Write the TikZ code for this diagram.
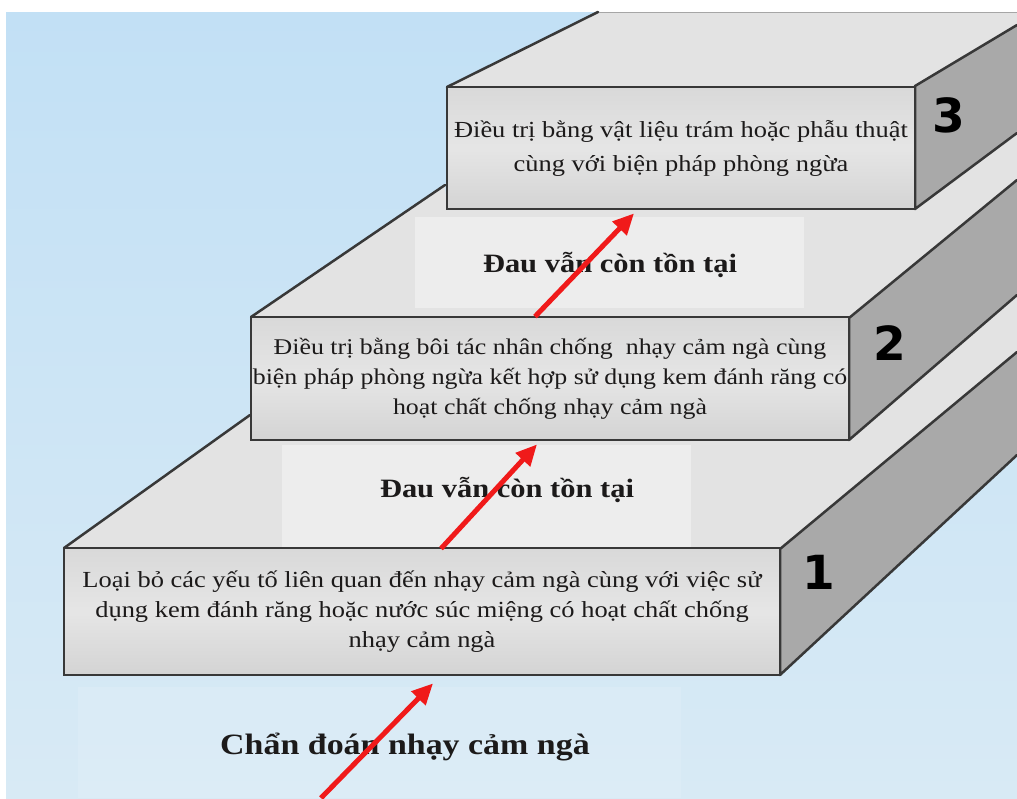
\documentclass[tikz,border=0pt]{standalone}
\usepackage{fontspec}
\setmainfont{Liberation Serif}
\newfontfamily\vnserif[FakeStretch=1.15]{Liberation Serif}
\newfontfamily\numfont{DejaVu Sans}
\usetikzlibrary{arrows.meta,calc}
\definecolor{edgec}{HTML}{383838}
\definecolor{topf}{HTML}{E3E3E3}
\definecolor{topl}{HTML}{EDEDED}
\definecolor{sidef}{HTML}{A9A9A9}
\definecolor{bgtop}{HTML}{C2E0F5}
\definecolor{bgbot}{HTML}{D8EAF5}
\definecolor{arrowred}{HTML}{F01A1A}
\definecolor{txt}{HTML}{1C1A1A}
\tikzset{
  topface/.style={fill=topf},
  sideface/.style={fill=sidef},
  edgeline/.style={draw=edgec, line width=2.5pt, line join=round, line cap=round},
  frontface/.style={draw=edgec, line width=2.8pt, top color=black!15, bottom color=black!17, middle color=black!10,
    inner sep=0pt, align=center, text=txt, font=\vnserif\fontsize{23}{30}\selectfont},
  labelbox/.style={fill=topl},
  steplabel/.style={anchor=base, text=txt, font=\vnserif\bfseries\fontsize{26.5}{30}\selectfont, inner sep=0pt},
  stepnum/.style={text=black, font=\numfont\bfseries\fontsize{47}{47}\selectfont, inner sep=0pt},
  redarrow/.style={draw=arrowred, line width=5pt, -{Triangle[length=21pt,width=19pt]}}
}
\begin{document}
\begin{tikzpicture}[x=1pt,y=-1pt]
\useasboundingbox (0,0) rectangle (1017,798);
% background
\fill[white] (0,0) rectangle (1017,798);
\shade[top color=bgtop, bottom color=bgbot] (6,12) rectangle (1017,798);
\fill[white, opacity=0.12] (78,687) rectangle (681,798);

% ---- step 1 ----
\fill[topface] (64,548) -- (250,415) -- (251,440) -- (849,440) -- (1017,295) -- (1017,352) -- (780,549) -- cycle;
\fill[labelbox] (282,445) rectangle (691,548);
\draw[edgeline] (64,548) -- (250,415);
\fill[sideface] (780,549) -- (1017,352) -- (1017,455) -- (780,675) -- cycle;
\draw[edgeline] (1017,352) -- (780,549) -- (780,675) -- (1017,455);
\node[frontface, minimum width=716pt, minimum height=127pt] (f1) at (422,611.5)
  {Loại bỏ các yếu tố liên quan đến nhạy cảm ngà cùng với việc sử\\
   dụng kem đánh răng hoặc nước súc miệng có hoạt chất chống\\
   nhạy cảm ngà};
\node[stepnum] (n1) at (819,572) {1};

% ---- step 2 ----
\fill[topface] (251,317) -- (445,185) -- (447,209) -- (915,209) -- (1017,133) -- (1017,180) -- (849,318) -- cycle;
\fill[labelbox] (415,217) rectangle (804,308);
\draw[edgeline] (251,317) -- (445,185);
\fill[sideface] (849,318) -- (1017,180) -- (1017,295) -- (849,440) -- cycle;
\draw[edgeline] (1017,180) -- (849,318) -- (849,440) -- (1017,295);
\node[frontface, minimum width=598pt, minimum height=123pt, font=\vnserif\fontsize{22.5}{30}\selectfont] (f2) at (550,378.5)
  {Điều trị bằng bôi tác nhân chống~ nhạy cảm ngà cùng\\
   biện pháp phòng ngừa kết hợp sử dụng kem đánh răng có\\
   hoạt chất chống nhạy cảm ngà};
\node[stepnum] (n2) at (890,343) {2};

% ---- step 3 ----
\fill[topface] (447,87) -- (598,12) -- (1017,12) -- (1017,25) -- (915,86) -- cycle;
\draw[black!35, line width=1pt] (598,12) -- (1017,12);
\draw[edgeline] (447,87) -- (598,12);
\fill[sideface] (915,86) -- (1017,25) -- (1017,133) -- (915,209) -- cycle;
\draw[edgeline] (1017,25) -- (915,86) -- (915,209) -- (1017,133);
\node[frontface, minimum width=468pt, minimum height=122pt, font=\vnserif\fontsize{23}{34}\selectfont] (f3) at (681,148)
  {Điều trị bằng vật liệu trám hoặc phẫu thuật\\
   cùng với biện pháp phòng ngừa};
\node[stepnum] (n3) at (949,115) {3};

% ---- labels ----
\node[steplabel] (l3) at (610,272) {Đau vẫn còn tồn tại};
\node[steplabel] (l2) at (507,497) {Đau vẫn còn tồn tại};
\node[steplabel, font=\vnserif\bfseries\fontsize{29.5}{32}\selectfont] (l1) at (405,754) {Chẩn đoán nhạy cảm ngà};

% ---- arrows ----
\coordinate (c0) at (321,798);
\draw[redarrow] (c0) -- ([xshift=11pt,yshift=-7pt]f1.south);
\draw[redarrow] ([xshift=19pt,yshift=-2pt]f1.north) -- ([xshift=-13pt,yshift=-3pt]f2.south);
\draw[redarrow] ([xshift=-15pt,yshift=-1pt]f2.north) -- ([xshift=-47pt,yshift=-3pt]f3.south);
\end{tikzpicture}
\end{document}
